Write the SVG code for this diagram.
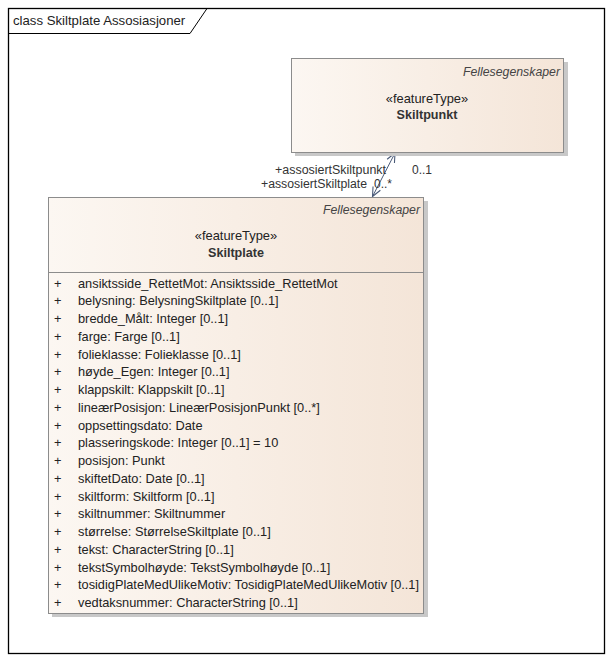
<svg xmlns="http://www.w3.org/2000/svg" width="614" height="662" viewBox="0 0 614 662">
<defs>
<linearGradient id="fill" x1="0" y1="0" x2="1" y2="0">
<stop offset="0" stop-color="#FCF7F2"/>
<stop offset="1" stop-color="#F4E5D8"/>
</linearGradient>
<marker id="open" viewBox="0 0 12 12" refX="11" refY="6" markerWidth="11" markerHeight="11" markerUnits="userSpaceOnUse" orient="auto-start-reverse">
<path d="M1,1.5 L11,6 L1,10.5" fill="none" stroke="#4A5A78" stroke-width="1.2"/>
</marker>
</defs>
<style>
text{font-family:"Liberation Sans",Arial,sans-serif;fill:#222;}
.t{font-size:13.2px;}
.a{font-size:12.8px;}
.fs{font-size:12.3px;font-style:italic;fill:#444;}
.st{font-size:12.9px;}
.nm{font-size:12.6px;font-weight:bold;fill:#333;}
.box{fill:url(#fill);stroke:#8C8C8C;stroke-width:1;}
.sh{fill:#C8C8C8;}
.lbl{font-size:12px;fill:#333;}
</style>
<rect x="0" y="0" width="614" height="662" fill="#FFFFFF"/>
<g id="frame">
<rect x="8.5" y="8.5" width="596" height="645" fill="none" stroke="#000" stroke-width="1.3"/>
<path d="M8.5,33.5 H190 L207,8.5" fill="none" stroke="#000" stroke-width="1"/>
<text class="t" x="13" y="25">class Skiltplate Assosiasjoner</text>
</g>
<g id="connectors">
<line x1="395" y1="153" x2="372.5" y2="196.5" stroke="#4A5A78" stroke-width="1" marker-start="url(#open)" marker-end="url(#open)"/>
<text class="lbl" x="275" y="174" textLength="111" lengthAdjust="spacingAndGlyphs">+assosiertSkiltpunkt</text>
<text class="lbl" x="412" y="174">0..1</text>
<text class="lbl" x="261" y="187.5" textLength="106" lengthAdjust="spacingAndGlyphs">+assosiertSkiltplate</text>
<text class="lbl" x="374" y="187.5">0..*</text>
</g>
<g id="Skiltpunkt">
<rect class="sh" x="295" y="62" width="273" height="94"/>
<rect class="box" x="291.5" y="58.5" width="272" height="94"/>
<text class="fs" x="560" y="76" text-anchor="end">Fellesegenskaper</text>
<text class="st" x="427" y="103" text-anchor="middle">«featureType»</text>
<text class="nm" x="427" y="119" text-anchor="middle">Skiltpunkt</text>
</g>
<g id="Skiltplate">
<rect class="sh" x="52" y="201" width="376" height="416"/>
<rect class="box" x="48.5" y="197.5" width="375" height="416"/>
<line x1="48.5" y1="272.5" x2="423.5" y2="272.5" stroke="#8C8C8C"/>
<text class="fs" x="420" y="214" text-anchor="end">Fellesegenskaper</text>
<text class="st" x="236" y="240" text-anchor="middle">«featureType»</text>
<text class="nm" x="236" y="257" text-anchor="middle">Skiltplate</text>
<g class="a">
<text class="a" x="54" y="287.5">+</text><text class="a" x="78" y="287.5">ansiktsside_RettetMot: Ansiktsside_RettetMot</text>
<text class="a" x="54" y="305.3">+</text><text class="a" x="78" y="305.3">belysning: BelysningSkiltplate [0..1]</text>
<text class="a" x="54" y="323">+</text><text class="a" x="78" y="323">bredde_Målt: Integer [0..1]</text>
<text class="a" x="54" y="340.8">+</text><text class="a" x="78" y="340.8">farge: Farge [0..1]</text>
<text class="a" x="54" y="358.5">+</text><text class="a" x="78" y="358.5">folieklasse: Folieklasse [0..1]</text>
<text class="a" x="54" y="376.3">+</text><text class="a" x="78" y="376.3">høyde_Egen: Integer [0..1]</text>
<text class="a" x="54" y="394">+</text><text class="a" x="78" y="394">klappskilt: Klappskilt [0..1]</text>
<text class="a" x="54" y="411.8">+</text><text class="a" x="78" y="411.8">lineærPosisjon: LineærPosisjonPunkt [0..*]</text>
<text class="a" x="54" y="429.5">+</text><text class="a" x="78" y="429.5">oppsettingsdato: Date</text>
<text class="a" x="54" y="447.3">+</text><text class="a" x="78" y="447.3">plasseringskode: Integer [0..1] = 10</text>
<text class="a" x="54" y="465">+</text><text class="a" x="78" y="465">posisjon: Punkt</text>
<text class="a" x="54" y="482.8">+</text><text class="a" x="78" y="482.8">skiftetDato: Date [0..1]</text>
<text class="a" x="54" y="500.5">+</text><text class="a" x="78" y="500.5">skiltform: Skiltform [0..1]</text>
<text class="a" x="54" y="518.3">+</text><text class="a" x="78" y="518.3">skiltnummer: Skiltnummer</text>
<text class="a" x="54" y="536">+</text><text class="a" x="78" y="536">størrelse: StørrelseSkiltplate [0..1]</text>
<text class="a" x="54" y="553.8">+</text><text class="a" x="78" y="553.8">tekst: CharacterString [0..1]</text>
<text class="a" x="54" y="571.5">+</text><text class="a" x="78" y="571.5">tekstSymbolhøyde: TekstSymbolhøyde [0..1]</text>
<text class="a" x="54" y="589.3">+</text><text class="a" x="78" y="589.3" textLength="341" lengthAdjust="spacingAndGlyphs">tosidigPlateMedUlikeMotiv: TosidigPlateMedUlikeMotiv [0..1]</text>
<text class="a" x="54" y="607">+</text><text class="a" x="78" y="607">vedtaksnummer: CharacterString [0..1]</text>
</g>
</g>
</svg>
